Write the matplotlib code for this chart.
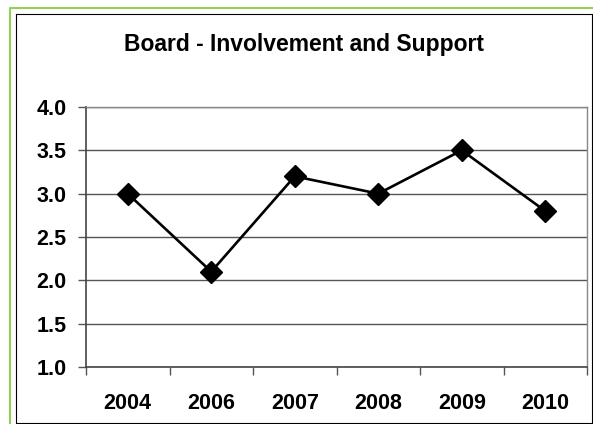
import matplotlib.pyplot as plt
from matplotlib.lines import Line2D

years = ['2004', '2006', '2007', '2008', '2009', '2010']
scores = [3.0, 2.1, 3.2, 3.0, 3.5, 2.8]
y_ticks = [1.0, 1.5, 2.0, 2.5, 3.0, 3.5, 4.0]

W, H = 593, 424
plt.rcParams['font.family'] = ['Liberation Sans', 'DejaVu Sans']
plt.rcParams['font.weight'] = 'bold'

fig = plt.figure(figsize=(W / 100, H / 100), dpi=100)


def fx(px):
    return px / W


def fy(py):
    return 1 - py / H


# рамки вокруг диаграммы (зелёная внешняя, чёрная внутренняя)
fig.add_artist(Line2D([fx(10), fx(10), fx(600)], [fy(430), fy(8), fy(8)],
                      transform=fig.transFigure, color='#92d050', lw=1.5))
fig.add_artist(Line2D([fx(16), fx(16), fx(591.5), fx(591.5), fx(16)],
                      [fy(14), fy(423), fy(423), fy(14), fy(14)],
                      transform=fig.transFigure, color='black', lw=0.8))

ax = fig.add_axes([fx(86), fy(367), fx(587 - 86), (367 - 107) / H])

x = list(range(len(years)))
ax.plot(x, scores, color='black', lw=1.9, marker='D', markersize=11.5,
        zorder=3, clip_on=False)

ax.set_xlim(-0.5, len(years) - 0.5)
ax.set_ylim(1.0, 4.0)
ax.set_yticks(y_ticks)
ax.set_yticklabels([f'{v:.1f}' for v in y_ticks])
ax.set_xticks(x)
ax.set_xticklabels(years)
ax.set_xticks([i - 0.5 for i in range(len(years) + 1)], minor=True)

ax.grid(axis='y', color='#555555', lw=1.0)
ax.set_axisbelow(True)
ax.tick_params(axis='y', length=6, width=1, color='#555555', labelsize=15.5, pad=8)
ax.tick_params(axis='x', which='major', length=0, labelsize=15.5, pad=19)
ax.tick_params(axis='x', which='minor', length=6, width=1, color='#555555')

for side in ['left', 'bottom']:
    ax.spines[side].set_color('#444444')
    ax.spines[side].set_linewidth(1.2)
for side in ['top', 'right']:
    ax.spines[side].set_color('#888888')
    ax.spines[side].set_linewidth(1.0)

fig.text(fx(304.5), fy(45), 'Board - Involvement and Support', ha='center',
         va='center', fontsize=16.5, fontweight='bold')

fig.savefig('out.png', dpi=100)
